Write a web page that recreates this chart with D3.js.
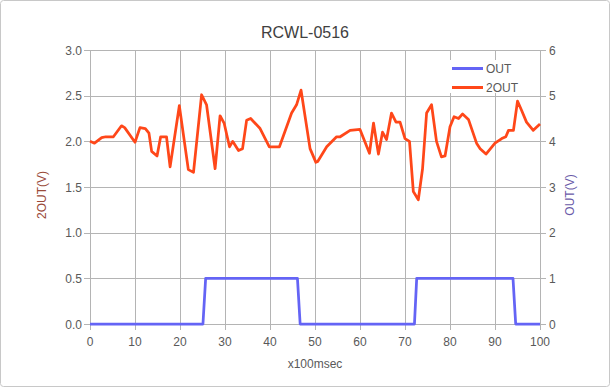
<!DOCTYPE html>
<html><head><meta charset="utf-8">
<script src="https://cdn.jsdelivr.net/npm/d3@7"></script>
<style>body{margin:0;background:#fff}svg{display:block}text{font-family:"Liberation Sans",Arial,sans-serif}</style>
</head><body>
<svg id="c" width="610" height="387"></svg>
<script>
const title = "RCWL-0516";
const xLabel = "x100msec";
const leftLabel = "2OUT(V)";
const rightLabel = "OUT(V)";
const seriesNames = ["OUT", "2OUT"];
const xTicks = [0,10,20,30,40,50,60,70,80,90,100];
const leftTicks = [0,0.5,1.0,1.5,2.0,2.5,3.0];
const rightTicks = [0,1,2,3,4,5,6];

const outX = [0,25.1,25.7,46.1,46.7,72.1,72.6,94.0,94.6,100];
const outY = [0,0,1,1,0,0,1,1,0,0];

const out2X = [0,1,2.6,3.5,5.2,7.0,7.7,10,11.1,12.3,13.1,13.7,14.9,15.7,17,17.8,19.85,21.85,23,24.8,25.9,27.8,28.9,29.8,31,31.7,33,33.9,34.8,35.7,37.8,39.85,42.1,44.8,45.9,46.9,48.9,50.2,50.6,52.6,54.8,55.6,57.8,60,62.1,63,64.1,65,65.9,67,68,68.9,70,71,71.85,72.96,73.9,74.8,75.9,77,78.1,78.9,80,80.9,81.9,82.8,84.1,85.9,86.7,88,90,91.5,92.4,93,94.1,95,95.9,97,98.5,100];
const out2Y = [2.00,1.98,2.04,2.05,2.05,2.17,2.15,1.99,2.15,2.14,2.09,1.89,1.84,2.05,2.05,1.72,2.39,1.69,1.66,2.51,2.40,1.70,2.28,2.20,1.94,2.00,1.90,1.92,2.23,2.25,2.14,1.94,1.94,2.31,2.40,2.56,1.92,1.77,1.78,1.94,2.05,2.05,2.12,2.13,1.87,2.20,1.86,2.10,2.02,2.31,2.21,2.21,2.03,2.00,1.45,1.36,1.70,2.31,2.40,2.00,1.83,1.84,2.16,2.27,2.25,2.30,2.24,1.98,1.92,1.86,1.98,2.03,2.05,2.12,2.12,2.44,2.34,2.21,2.12,2.19];

const colors = {OUT:"#6464f5", "2OUT":"#ff4719"};
const grid = "#b4b4b4", tickText = "#595959";

const svg = d3.select("#c");
const L = 90, R = 540, T = 50, B = 324;
const x = d3.scaleLinear().domain([0,100]).range([L,R]);
const yL = d3.scaleLinear().domain([0,3]).range([B,T]);
const yR = d3.scaleLinear().domain([0,6]).range([B,T]);

svg.append("rect").attr("x",0.5).attr("y",0.5).attr("width",609).attr("height",386)
  .attr("rx",3).attr("fill","#fff").attr("stroke","#c8c8c8");

// gridlines
const g = svg.append("g");
g.selectAll(".hg").data(leftTicks).join("line")
  .attr("x1",L-6).attr("x2",R+6).attr("y1",d=>Math.round(yL(d))+0.5).attr("y2",d=>Math.round(yL(d))+0.5)
  .attr("stroke",grid);
g.selectAll(".vg").data(xTicks).join("line")
  .attr("y1",T).attr("y2",B+6).attr("x1",d=>Math.round(x(d))+0.5).attr("x2",d=>Math.round(x(d))+0.5)
  .attr("stroke",grid);

// tick labels
g.selectAll(".lt").data(leftTicks).join("text")
  .attr("x",L-8).attr("y",d=>yL(d)+4.5).attr("text-anchor","end")
  .attr("font-size",12).attr("fill",tickText).text(d=>d3.format(".1f")(d));
g.selectAll(".rt").data(rightTicks).join("text")
  .attr("x",R+9).attr("y",d=>yR(d)+4.5).attr("text-anchor","start")
  .attr("font-size",12).attr("fill",tickText).text(d=>d);
g.selectAll(".xt").data(xTicks).join("text")
  .attr("x",d=>x(d)).attr("y",B+22).attr("text-anchor","middle")
  .attr("font-size",12).attr("fill",tickText).text(d=>d);

// titles
svg.append("text").attr("x",305).attr("y",38).attr("text-anchor","middle")
  .attr("font-size",16).attr("fill","#404040").text(title);
svg.append("text").attr("x",315).attr("y",368).attr("text-anchor","middle")
  .attr("font-size",12).attr("fill",tickText).text(xLabel);
svg.append("text").attr("transform","translate(46,195) rotate(-90)").attr("text-anchor","middle")
  .attr("font-size",12).attr("fill","#9a4a3a").text(leftLabel);
svg.append("text").attr("transform","translate(574,195) rotate(-90)").attr("text-anchor","middle")
  .attr("font-size",12).attr("fill","#6a5aa8").text(rightLabel);

// lines
const outData = outX.map((v,i)=>[v,outY[i]]);
const out2Data = out2X.map((v,i)=>[v,out2Y[i]]);
svg.append("path").datum(out2Data)
  .attr("d",d3.line().x(d=>x(d[0])).y(d=>yL(d[1])))
  .attr("fill","none").attr("stroke",colors["2OUT"]).attr("stroke-width",2.75).attr("stroke-linejoin","round");
svg.append("path").datum(outData)
  .attr("d",d3.line().x(d=>x(d[0])).y(d=>yR(d[1])))
  .attr("fill","none").attr("stroke",colors.OUT).attr("stroke-width",2.75).attr("stroke-linejoin","round");

// legend
const lg = svg.append("g");
lg.append("rect").attr("x",447).attr("y",60).attr("width",92).attr("height",33).attr("fill","#fff");
seriesNames.forEach((n,i)=>{
  const yy = 68.5 + i*19;
  lg.append("line").attr("x1",452).attr("x2",483).attr("y1",yy).attr("y2",yy)
    .attr("stroke",colors[n]).attr("stroke-width",3);
  lg.append("text").attr("x",486).attr("y",yy+4.5).attr("font-size",12).attr("fill",tickText).text(n);
});
</script>
</body></html>
